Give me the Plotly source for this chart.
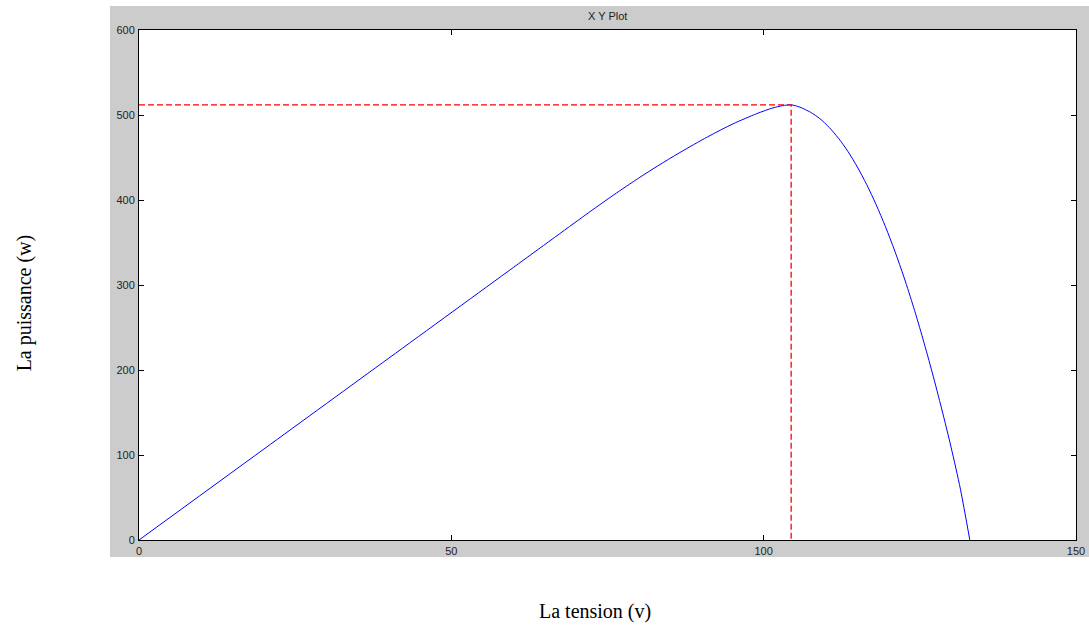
import plotly.graph_objects as go

# P-V characteristic of the PV array
tension = [0, 20, 40, 60, 72, 76, 80, 83, 86.6, 91, 95.1, 98.9, 101.5, 103, 104.4,
           105.8, 107.5, 109, 110.5, 112, 113.5, 115, 116.5, 118, 119.5, 121,
           122.5, 124, 125.5, 127, 128.5, 130, 131.5, 133.0]
puissance = [0, 107, 214, 321, 385.2, 406, 425.8, 439.9, 455.9, 474.2, 489.6, 501.6, 508.4, 510.9, 512,
             509.2, 503.2, 495.7, 485.3, 472.4, 457, 438.8, 418, 394.6, 368.5, 339.8,
             308.3, 273.8, 236.5, 196.6, 154.2, 109.2, 59.7, 0]

# Maximum power point
v_mpp = 104.4
p_mpp = 512

x_ticks = [0, 50, 100, 150]
y_ticks = [0, 100, 200, 300, 400, 500, 600]

fig = go.Figure()

fig.add_trace(go.Scatter(
    x=tension, y=puissance, mode="lines",
    line=dict(color="#0000ff", width=1, shape="spline", smoothing=0.8),
    hoverinfo="skip", showlegend=False,
))

# dashed guides to the maximum power point
fig.add_trace(go.Scatter(
    x=[0, v_mpp, v_mpp], y=[p_mpp, p_mpp, 0], mode="lines",
    line=dict(color="#ff0000", width=1.3, dash="6px,3px"),
    hoverinfo="skip", showlegend=False,
))

axis_common = dict(
    showgrid=False, zeroline=False, automargin=False,
    showline=True, linecolor="black", linewidth=1, mirror="ticks",
    ticks="inside", ticklen=5, tickcolor="black", tickwidth=1,
    tickfont=dict(family="Arial, Liberation Sans, sans-serif", size=11, color="#222222"),
)

fig.update_xaxes(range=[0, 150], tickvals=x_ticks, ticklabelstandoff=1, **axis_common)
fig.update_yaxes(range=[0, 600], tickvals=y_ticks, ticklabelstandoff=1, **axis_common)

# grey figure frame with white axes area
fig.add_shape(type="rect", xref="paper", yref="paper",
              x0=-0.031, x1=1.02, y0=-0.0333, y1=1.047,
              fillcolor="#cccccc", line=dict(width=0), layer="below")
fig.add_shape(type="rect", xref="paper", yref="paper",
              x0=0, x1=1, y0=0, y1=1,
              fillcolor="white", line=dict(width=0), layer="below")

fig.add_annotation(text="X Y Plot", xref="paper", yref="paper",
                   x=0.5, y=1.027, showarrow=False, xanchor="center", yanchor="middle",
                   font=dict(family="Arial, Liberation Sans, sans-serif", size=11, color="#222222"))

serif = dict(family="Liberation Serif, Times New Roman, serif", size=20, color="black")
fig.add_annotation(text="La tension (v)", xref="paper", yref="paper",
                   x=0.4867, y=-0.141, showarrow=False, xanchor="center", yanchor="middle",
                   font=serif)
fig.add_annotation(text="La puissance (w)", xref="paper", yref="paper",
                   x=-0.1222, y=0.465, showarrow=False, xanchor="center", yanchor="middle",
                   textangle=-90, font=serif)

fig.update_layout(
    width=1089, height=630,
    margin=dict(l=139, r=13, t=30, b=90, autoexpand=False),
    paper_bgcolor="white", plot_bgcolor="white",
)

fig.write_html("out.html")
